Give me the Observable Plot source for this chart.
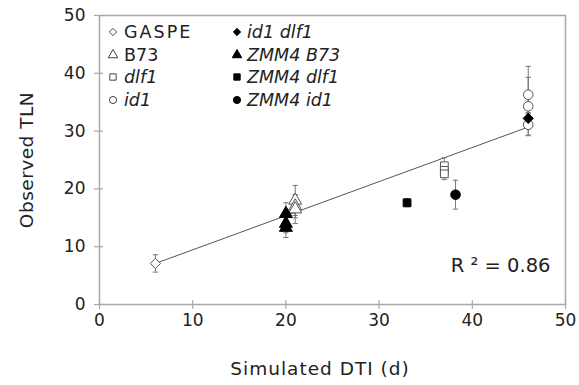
<!DOCTYPE html>
<html><head><meta charset="utf-8">
<script src="https://cdn.jsdelivr.net/npm/d3@7"></script>
<script src="https://cdn.jsdelivr.net/npm/@observablehq/plot@0.6"></script>
<style>
body{margin:0;background:#fff;}
#wrap{position:relative;width:579px;height:385px;font-family:"DejaVu Sans",Verdana,sans-serif;}
#legend{position:absolute;left:0;top:0;pointer-events:none;}
</style></head>
<body><div id="wrap"></div>
<script>
// Genotype series: simulated DTI (x), observed TLN (y), error (±)
const gaspeX = [6], gaspeY = [7.1], gaspeE = [1.5];
const b73X = [21, 21, 21], b73Y = [18.0, 17.0, 16.5], b73E = [2.6, 2.0, 2.5];
const dlf1X = [37, 37, 37], dlf1Y = [24.0, 23.2, 22.6], dlf1E = [1.4, 1.2, 1.0];
const id1X = [46, 46, 46], id1Y = [36.3, 34.3, 31.1], id1E = [4.9, 5.0, 1.9];
const id1dlf1X = [46], id1dlf1Y = [32.2], id1dlf1E = [1.0];
const zB73X = [20, 20, 20], zB73Y = [15.7, 14.0, 13.3], zB73E = [1.9, 1.6, 1.7];
const zDlf1X = [33], zDlf1Y = [17.6], zDlf1E = [0.7];
const zId1X = [38.2], zId1Y = [19.0], zId1E = [2.5];
// fitted regression line
const fitX = [6, 46], fitY = [7.1, 30.7];
const r2Label = "R ² = 0.86";
const xTicks = [0, 10, 20, 30, 40, 50], yTicks = [0, 10, 20, 30, 40, 50];
const xTitle = "Simulated DTI (d)", yTitle = "Observed TLN";
const legendNames = ["GASPE", "B73", "dlf1", "id1", "id1 dlf1", "ZMM4 B73", "ZMM4 dlf1", "ZMM4 id1"];

const series = [
  {name: "GASPE", x: gaspeX, y: gaspeY, e: gaspeE, symbol: "diamond2", fill: "white", italic: false},
  {name: "B73", x: b73X, y: b73Y, e: b73E, symbol: "triangle", fill: "white", italic: false},
  {name: "dlf1", x: dlf1X, y: dlf1Y, e: dlf1E, symbol: "square", fill: "white", italic: true},
  {name: "id1", x: id1X, y: id1Y, e: id1E, symbol: "circle", fill: "white", italic: true},
  {name: "id1 dlf1", x: id1dlf1X, y: id1dlf1Y, e: id1dlf1E, symbol: "diamond2", fill: "black", italic: true},
  {name: "ZMM4 B73", x: zB73X, y: zB73Y, e: zB73E, symbol: "triangle", fill: "black", italic: true},
  {name: "ZMM4 dlf1", x: zDlf1X, y: zDlf1Y, e: zDlf1E, symbol: "square", fill: "black", italic: true},
  {name: "ZMM4 id1", x: zId1X, y: zId1Y, e: zId1E, symbol: "circle", fill: "black", italic: true}
];
const rows = series.flatMap(s => s.x.map((x, i) => ({name: s.name, x, y: s.y[i], e: s.e[i]})));
const caps = rows.flatMap(d => [{x: d.x, y: d.y - d.e}, {x: d.x, y: d.y + d.e}]);
const fit = fitX.map((x, i) => ({x, y: fitY[i]}));

const capSymbol = {draw(ctx, size) { const r = Math.sqrt(size) / 2; ctx.moveTo(-r, 0); ctx.lineTo(r, 0); }};
const symSize = {diamond2: 4.6, triangle: 4.8, square: 4.4, circle: 4.8};
const grey = "#a8a8a8";
const marks = [
  Plot.frame({stroke: grey, strokeWidth: 1.5}),
  Plot.axisX({ticks: xTicks, tickSize: 5, tickPadding: 4, fontSize: 17, stroke: grey, strokeWidth: 1.2, label: null}),
  Plot.axisX({ticks: xTicks, tickSize: 4, text: null, dy: -4, stroke: grey, strokeWidth: 1.2, label: null}),
  Plot.axisY({ticks: yTicks, tickSize: 5, tickPadding: 9, fontSize: 17, stroke: grey, strokeWidth: 1.2, label: null}),
  Plot.axisY({ticks: yTicks, tickSize: 4, text: null, dx: 4, stroke: grey, strokeWidth: 1.2, label: null}),
  Plot.line(fit, {x: "x", y: "y", stroke: "#555", strokeWidth: 1}),
  Plot.ruleX(rows, {x: "x", y1: d => d.y - d.e, y2: d => d.y + d.e, stroke: "#777", strokeWidth: 1}),
  Plot.dot(caps, {x: "x", y: "y", symbol: capSymbol, r: 3, stroke: "#777", strokeWidth: 1})
];
for (const s of series) {
  const pts = rows.filter(d => d.name === s.name);
  marks.push(Plot.dot(pts, {x: "x", y: "y", symbol: s.symbol, r: symSize[s.symbol], fill: s.fill, stroke: s.fill === "black" ? "black" : "#555", strokeWidth: 1}));
}
marks.push(Plot.text([r2Label], {frameAnchor: "bottom-right", dx: -15, dy: -33, fontSize: 19.5, fill: "#222"}));

const chart = Plot.plot({
  width: 579, height: 385,
  marginLeft: 99, marginRight: 14, marginTop: 15, marginBottom: 81,
  style: {fontFamily: "DejaVu Sans, Verdana, sans-serif", fontSize: "17px", color: "#222", background: "white"},
  x: {domain: [0, 50], label: null},
  y: {domain: [0, 50], label: null},
  marks
});
document.getElementById("wrap").appendChild(chart);

// legend and axis titles overlay
const lg = d3.select("#wrap").append("svg").attr("id", "legend").attr("width", 579).attr("height", 385)
  .attr("font-family", "DejaVu Sans, Verdana, sans-serif");
const colX = [113, 237], textX = [124, 247], rowY = [32, 55, 77, 100];
const symMap = {diamond2: d3.symbolDiamond2, triangle: d3.symbolTriangle, square: d3.symbolSquare, circle: d3.symbolCircle};
series.forEach((s, i) => {
  const c = Math.floor(i / 4), r = i % 4;
  lg.append("path").attr("d", d3.symbol(symMap[s.symbol], s.symbol === "diamond2" ? 34 : 40)())
    .attr("transform", `translate(${colX[c]},${rowY[r]})`)
    .attr("fill", s.fill).attr("stroke", s.fill === "black" ? "black" : "#444").attr("stroke-width", 1);
  lg.append("text").attr("x", textX[c]).attr("y", rowY[r]).attr("dy", "0.36em")
    .attr("font-size", 17.5).attr("fill", "#222")
    .attr("font-style", s.italic ? "italic" : "normal")
    .attr("letter-spacing", s.name === "GASPE" ? 2 : 0)
    .text(legendNames[i]);
});
lg.append("text").attr("x", 320).attr("y", 368).attr("dy", "0.36em").attr("text-anchor", "middle")
  .attr("font-size", 18.5).attr("letter-spacing", 1).attr("fill", "#222").text(xTitle);
lg.append("text").attr("transform", "translate(26,160) rotate(-90)").attr("dy", "0.36em").attr("text-anchor", "middle")
  .attr("font-size", 18.5).attr("letter-spacing", 0.5).attr("fill", "#222").text(yTitle);
</script></body></html>
